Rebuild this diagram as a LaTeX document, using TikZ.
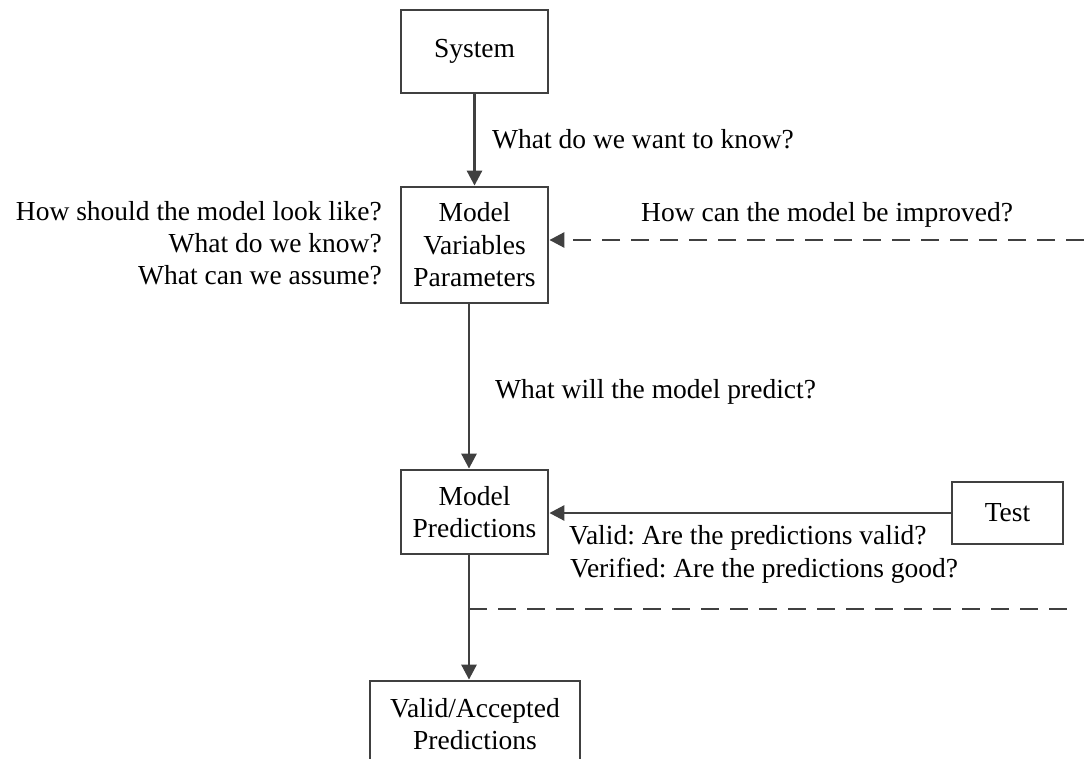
\documentclass[tikz,border=0pt]{standalone}
\usepackage{fontspec}
\setmainfont{Liberation Serif}
\usetikzlibrary{arrows.meta}
\definecolor{linegray}{HTML}{404040}
\frenchspacing
\begin{document}
\begin{tikzpicture}[x=1pt,y=-1pt,
  every node/.style={font=\fontsize{27.5}{32.5}\selectfont, text=black, inner sep=0pt},
  box/.style={draw=linegray, line width=2.8pt, align=center},
  flow/.style={draw=linegray, line width=2.8pt, -{Triangle[length=15pt,width=15pt]}},
  feedback/.style={flow, dash pattern=on 18pt off 11pt},
  rule/.style={draw=linegray, line width=2.8pt, dash pattern=on 18pt off 11pt},
  label/.style={anchor=base west}]
\clip (0,0) rectangle (1084,759);

% boxes
\node[box, minimum width=147pt, minimum height=83pt] (sys) at (474.5,51.5) {System};
\node[box, minimum width=147pt, minimum height=116pt] (model) at (474.5,245) {Model\\Variables\\Parameters};
\node[box, minimum width=147pt, minimum height=84pt] (pred) at (474.5,512) {Model\\Predictions};
\node[box, minimum width=111pt, minimum height=62pt] (test) at (1007.5,513) {Test};
\node[box, minimum width=210pt, minimum height=86pt] (final) at (475,724) {Valid/Accepted\\Predictions};

% main flow
\draw[flow] (sys.south) -- (model.north);
\draw[flow] ([xshift=-5.5pt]model.south) -- ([xshift=-5.5pt]model.south |- pred.north);
\draw[flow] ([xshift=-5.5pt]pred.south) -- ([xshift=-5.5pt]pred.south |- final.north);
\draw[flow] (test.west) -- (test.west -| pred.east);

% feedback and separator
\coordinate (fbstart) at (1084,240);
\draw[feedback] (fbstart) -- (fbstart -| model.east);
\coordinate (split) at ([xshift=-5.5pt]pred.south |- 0,609);
\coordinate (splitend) at (1075,609);
\draw[rule] (split) -- (splitend);

% questions
\node[label] (q1) at (492,149) {What do we want to know?};
\node[anchor=base east] (q2) at (382,221) {How should the model look like?};
\node[anchor=base east] (q3) at (382,253) {What do we know?};
\node[anchor=base east] (q4) at (382,285) {What can we assume?};
\node[label] (q5) at (641,222) {How can the model be improved?};
\node[label] (q6) at (495,398) {What will the model predict?};
\node[label] (q7) at (569,544) {Valid: Are the predictions valid?};
\node[label] (q8) at (570,577) {Verified: Are the predictions good?};
\end{tikzpicture}
\end{document}
